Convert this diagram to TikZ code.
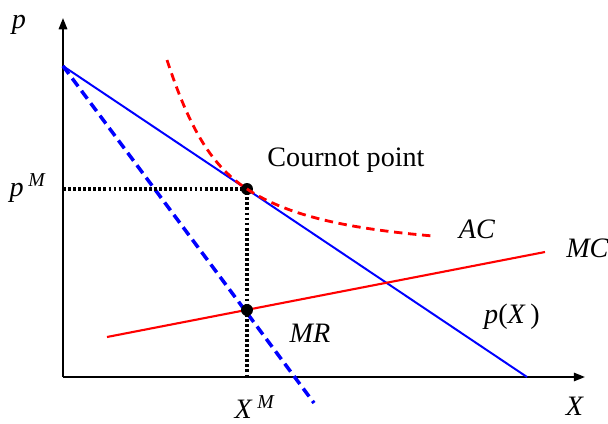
\documentclass[tikz,border=0pt]{standalone}
\usepackage{fontspec}
\setmainfont{Liberation Serif}
\usetikzlibrary{arrows.meta}
\begin{document}
\begin{tikzpicture}[x=0.025cm,y=-0.025cm,
  every node/.style={inner sep=0pt,font=\fontsize{20}{24}\selectfont},
  axis/.style={draw,line width=1.3pt,-{Triangle[length=8pt,width=6pt]}},
  demand/.style={draw,blue,line width=1.4pt},
  mrline/.style={draw,blue,line width=2.5pt,dash pattern=on 7pt off 4pt},
  mcline/.style={draw,red,line width=1.5pt},
  acline/.style={draw,red,line width=2pt,dash pattern=on 6pt off 4pt},
  guide/.style={draw,line width=2.2pt,dash pattern=on 2pt off 1.6pt},
  point/.style={circle,fill,inner sep=0pt,minimum size=8.5pt}]
\useasboundingbox (0,0) rectangle (608,423);
% axes
\coordinate (O) at (63,377);
\coordinate (ytop) at (63,18);
\coordinate (xend) at (585,377);
\draw[axis] (O) -- (ytop);
\draw[axis] (O) -- (xend);
% curves
\coordinate (A) at (63,66);
\coordinate (B) at (527,377);
\coordinate (mrend) at (314,403);
\coordinate (mc1) at (107,337);
\coordinate (mc2) at (545,252);
\coordinate (ac1) at (167,60);
\coordinate (ac2) at (433,236);
\coordinate (pm) at (63,189);
\coordinate (xm) at (247,377);
\draw[demand] (A) -- (B);
\draw[mrline] (A) -- (mrend);
\draw[mcline] (mc1) -- (mc2);
\draw[guide] (pm) -- (247,189) -- (xm);
\node[point] (cp) at (247,189) {};
\node[point] (mm) at (247,310) {};
\draw[acline] (ac1) .. controls (190,130) and (212,166) .. (cp.center)
  .. controls (285,214) and (340,228) .. (ac2);
% labels
\node (lp) at (19,25) {\textit{p}};
\node (lpm) at (28,188) {\textit{p}\,\textsuperscript{\textit{M}}};
\node (lxm) at (255,407) {\textit{X}\,\textsuperscript{\textit{M}}};
\node (lx) at (575,406) {\textit{X}};
\node (lcp) at (346,160) {Cournot point};
\node (lac) at (477,229) {\textit{AC}};
\node[anchor=west] (lmc) at (566,248) {\textit{MC}};
\node (lpx) at (512,317) {\textit{p}(\textit{X}\,)};
\node (lmr) at (310,333) {\textit{MR}};
\end{tikzpicture}
\end{document}
